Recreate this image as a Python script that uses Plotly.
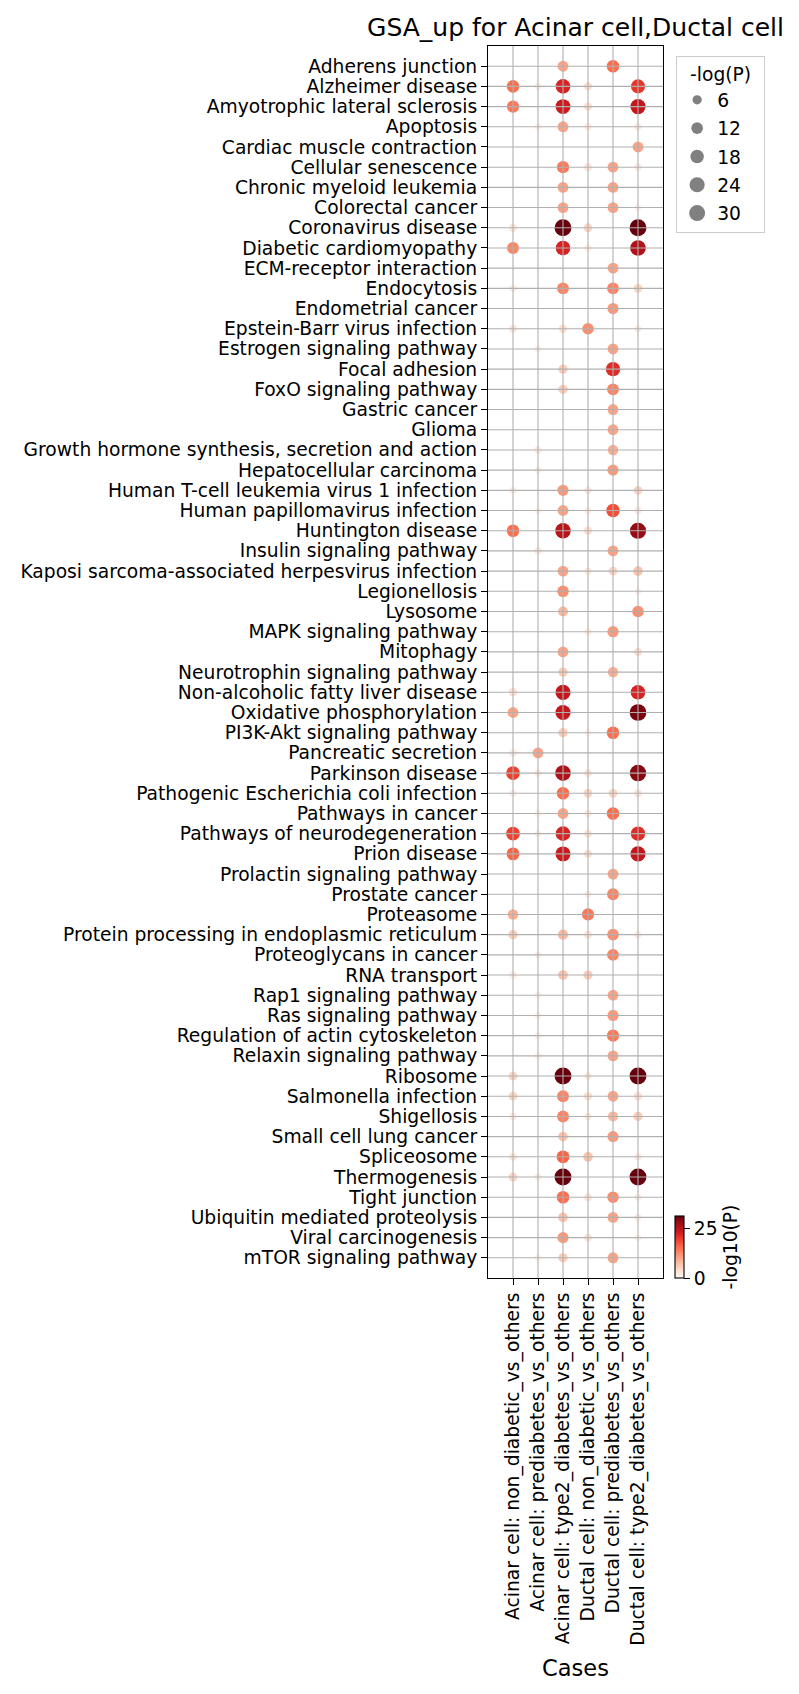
import numpy as np
import plotly.graph_objects as go

N = None

pathways = [
    "Adherens junction", "Alzheimer disease", "Amyotrophic lateral sclerosis", "Apoptosis",
    "Cardiac muscle contraction", "Cellular senescence", "Chronic myeloid leukemia",
    "Colorectal cancer", "Coronavirus disease", "Diabetic cardiomyopathy",
    "ECM-receptor interaction", "Endocytosis", "Endometrial cancer",
    "Epstein-Barr virus infection", "Estrogen signaling pathway", "Focal adhesion",
    "FoxO signaling pathway", "Gastric cancer", "Glioma",
    "Growth hormone synthesis, secretion and action", "Hepatocellular carcinoma",
    "Human T-cell leukemia virus 1 infection", "Human papillomavirus infection",
    "Huntington disease", "Insulin signaling pathway",
    "Kaposi sarcoma-associated herpesvirus infection", "Legionellosis", "Lysosome",
    "MAPK signaling pathway", "Mitophagy", "Neurotrophin signaling pathway",
    "Non-alcoholic fatty liver disease", "Oxidative phosphorylation",
    "PI3K-Akt signaling pathway", "Pancreatic secretion", "Parkinson disease",
    "Pathogenic Escherichia coli infection", "Pathways in cancer",
    "Pathways of neurodegeneration", "Prion disease", "Prolactin signaling pathway",
    "Prostate cancer", "Proteasome", "Protein processing in endoplasmic reticulum",
    "Proteoglycans in cancer", "RNA transport", "Rap1 signaling pathway",
    "Ras signaling pathway", "Regulation of actin cytoskeleton",
    "Relaxin signaling pathway", "Ribosome", "Salmonella infection", "Shigellosis",
    "Small cell lung cancer", "Spliceosome", "Thermogenesis", "Tight junction",
    "Ubiquitin mediated proteolysis", "Viral carcinogenesis", "mTOR signaling pathway",
]

cases = [
    "Acinar cell: non_diabetic_vs_others",
    "Acinar cell: prediabetes_vs_others",
    "Acinar cell: type2_diabetes_vs_others",
    "Ductal cell: non_diabetic_vs_others",
    "Ductal cell: prediabetes_vs_others",
    "Ductal cell: type2_diabetes_vs_others",
]

# -log10(P) per pathway (same order as pathways), None = not enriched
acinar_non_diabetic = [N, 15, 14, N, N, N, N, N, 3, 13, N, 2, N, 3, N, N, N, N, N, N,
                       N, 1.5, N, 15, N, N, N, N, N, N, N, 4, 10, N, 2, 19, 1.5, N, 19, 16,
                       N, N, 9, 6, N, 2, N, N, N, N, 5, 5, 2, N, 3, 5, N, N, N, N]
acinar_prediabetes = [N, 1, N, 1, N, N, N, N, N, N, N, N, N, N, 1, N, N, N, N, 2,
                      1, N, 1, N, 2, N, N, N, N, N, N, N, N, N, 10, 2, N, 1, 1, N,
                      N, N, N, N, 1, N, 1, 1, 1, 1, N, N, N, N, N, 1.5, N, N, N, 1]
acinar_type2 = [10, 22, 23, 10, N, 14, 10, 10, 31, 22, N, 13, N, 4, N, 6, 6, N, N, N,
                N, 11, 10, 25, N, 10, 12, 8, N, 10, 6, 24, 24, 6, N, 26, 15, 10, 22, 23,
                N, N, N, 8, N, 7, N, N, N, N, 31, 13, 13, 7, 16, 31, 15, 7, 11, 6]
ductal_non_diabetic = [N, 4, 4, 2, N, 3, N, N, 5, 1.5, N, N, N, 12, N, N, N, N, N, N,
                       N, 2, 1.5, 4, N, 2, N, N, 1.5, N, N, N, N, 1, N, 3, 5, 2, 3, 4,
                       N, 1.5, 14, 3, N, 6, N, N, N, N, 2, 4, 2, N, 7, N, 3, N, 3, N]
ductal_prediabetes = [15, N, N, N, N, 10, 10, 10, N, N, 10, 13, 11, N, 10, 21, 13, 10, 10, 9,
                      11, N, 18, N, 10, 5, N, N, 11, N, 9, N, N, 15, N, N, 5, 15, N, N,
                      10, 13, N, 12, 13, N, 10, 11, 14, 10, N, 10, 8, 11, N, N, 12, 10, N, 10]
ductal_type2 = [N, 20, 24, 2, 10, 2, N, 1, 31, 26, N, 5, N, 1.5, N, N, N, N, N, N,
                N, 5, 2, 28, N, 7, 1, 12, N, 4, N, 22, 30, N, N, 29, 3, N, 21, 24,
                N, N, N, 2, N, N, N, N, N, N, 31, 4, 6, N, 2, 31, 1.5, 1.5, 1, N]

legend_values = [6, 12, 18, 24, 30]

font = "DejaVu Sans"
fs = 18.7


def dot_size(v):
    # marker diameter in px, area grows linearly with -log(P)
    return np.sqrt(38 + 8.0 * np.asarray(v, dtype=float))


columns = [acinar_non_diabetic, acinar_prediabetes, acinar_type2,
           ductal_non_diabetic, ductal_prediabetes, ductal_type2]

xs, ys, vals = [], [], []
for case, col in zip(cases, columns):
    for name, v in zip(pathways, col):
        if v is not None:
            xs.append(case)
            ys.append(name)
            vals.append(v)

fig = go.Figure()
fig.add_trace(go.Scatter(
    x=xs, y=ys, mode="markers", showlegend=False,
    marker=dict(
        size=dot_size(vals), color=vals, colorscale="Reds", cmin=0, cmax=31,
        line=dict(width=0), opacity=1,
        colorbar=dict(
            thickness=9, len=62, lenmode="pixels",
            x=1.069, xanchor="left", xpad=0, y=0, yanchor="bottom", ypad=0,
            outlinewidth=1.1, outlinecolor="black",
            tickvals=[0, 25], ticks="outside", ticklen=6, tickcolor="black",
            tickfont=dict(family=font, size=fs, color="black"),
            title=dict(text="-log10(P)", side="right",
                       font=dict(family=font, size=fs, color="black")),
        ),
    ),
))

for i, v in enumerate(legend_values):
    # trailing nbsp widens the legend box like matplotlib's
    fig.add_trace(go.Scatter(
        x=[None], y=[None], mode="markers", name=str(v) + "\u00a0" * 3,
        legendgroup=str(i),
        marker=dict(size=float(dot_size(v)), color="#808080"),
    ))

# matplotlib draws the grid over the dots
grid = dict(color="#b0b0b0", width=1.1)
for case in cases:
    fig.add_shape(type="line", xref="x", yref="paper", x0=case, x1=case, y0=0, y1=1,
                  line=grid, layer="above")
for name in pathways:
    fig.add_shape(type="line", xref="paper", yref="y", x0=0, x1=1, y0=name, y1=name,
                  line=grid, layer="above")

axis_common = dict(
    type="category", showgrid=False, zeroline=False,
    showline=True, mirror=True, linecolor="black", linewidth=1.1,
    ticks="outside", ticklen=6, tickwidth=1.1, tickcolor="black",
    tickfont=dict(family=font, size=fs, color="black"),
)

fig.update_layout(
    width=799, height=1694,
    margin=dict(l=488, r=136, t=46, b=416),
    plot_bgcolor="white", paper_bgcolor="white",
    font=dict(family=font, size=fs, color="black"),
    title=dict(text="GSA_up for Acinar cell,Ductal cell", x=0.5, xref="paper",
               y=1 - 27 / 1694, yanchor="middle",
               font=dict(family=font, size=25, color="black")),
    xaxis=dict(axis_common, categoryorder="array", categoryarray=cases,
               tickmode="array", tickvals=cases, ticktext=cases,
               range=[-1, len(cases)], tickangle=-90,
               title=dict(text="Cases", font=dict(family=font, size=22.5, color="black"))),
    yaxis=dict(axis_common, categoryorder="array", categoryarray=pathways,
               tickmode="array", tickvals=pathways, ticktext=pathways,
               range=[len(pathways), -1]),
    legend=dict(
        title=dict(text="-log(P)", side="top center",
                   font=dict(family=font, size=fs, color="black")),
        x=1.075, xanchor="left", y=0.992, yanchor="top",
        bordercolor="#cccccc", borderwidth=1, bgcolor="white",
        tracegroupgap=1, font=dict(family=font, size=fs, color="black"),
    ),
)

fig.write_html("out.html", config={"displayModeBar": False},
               post_script="document.body.style.margin = '0';")
